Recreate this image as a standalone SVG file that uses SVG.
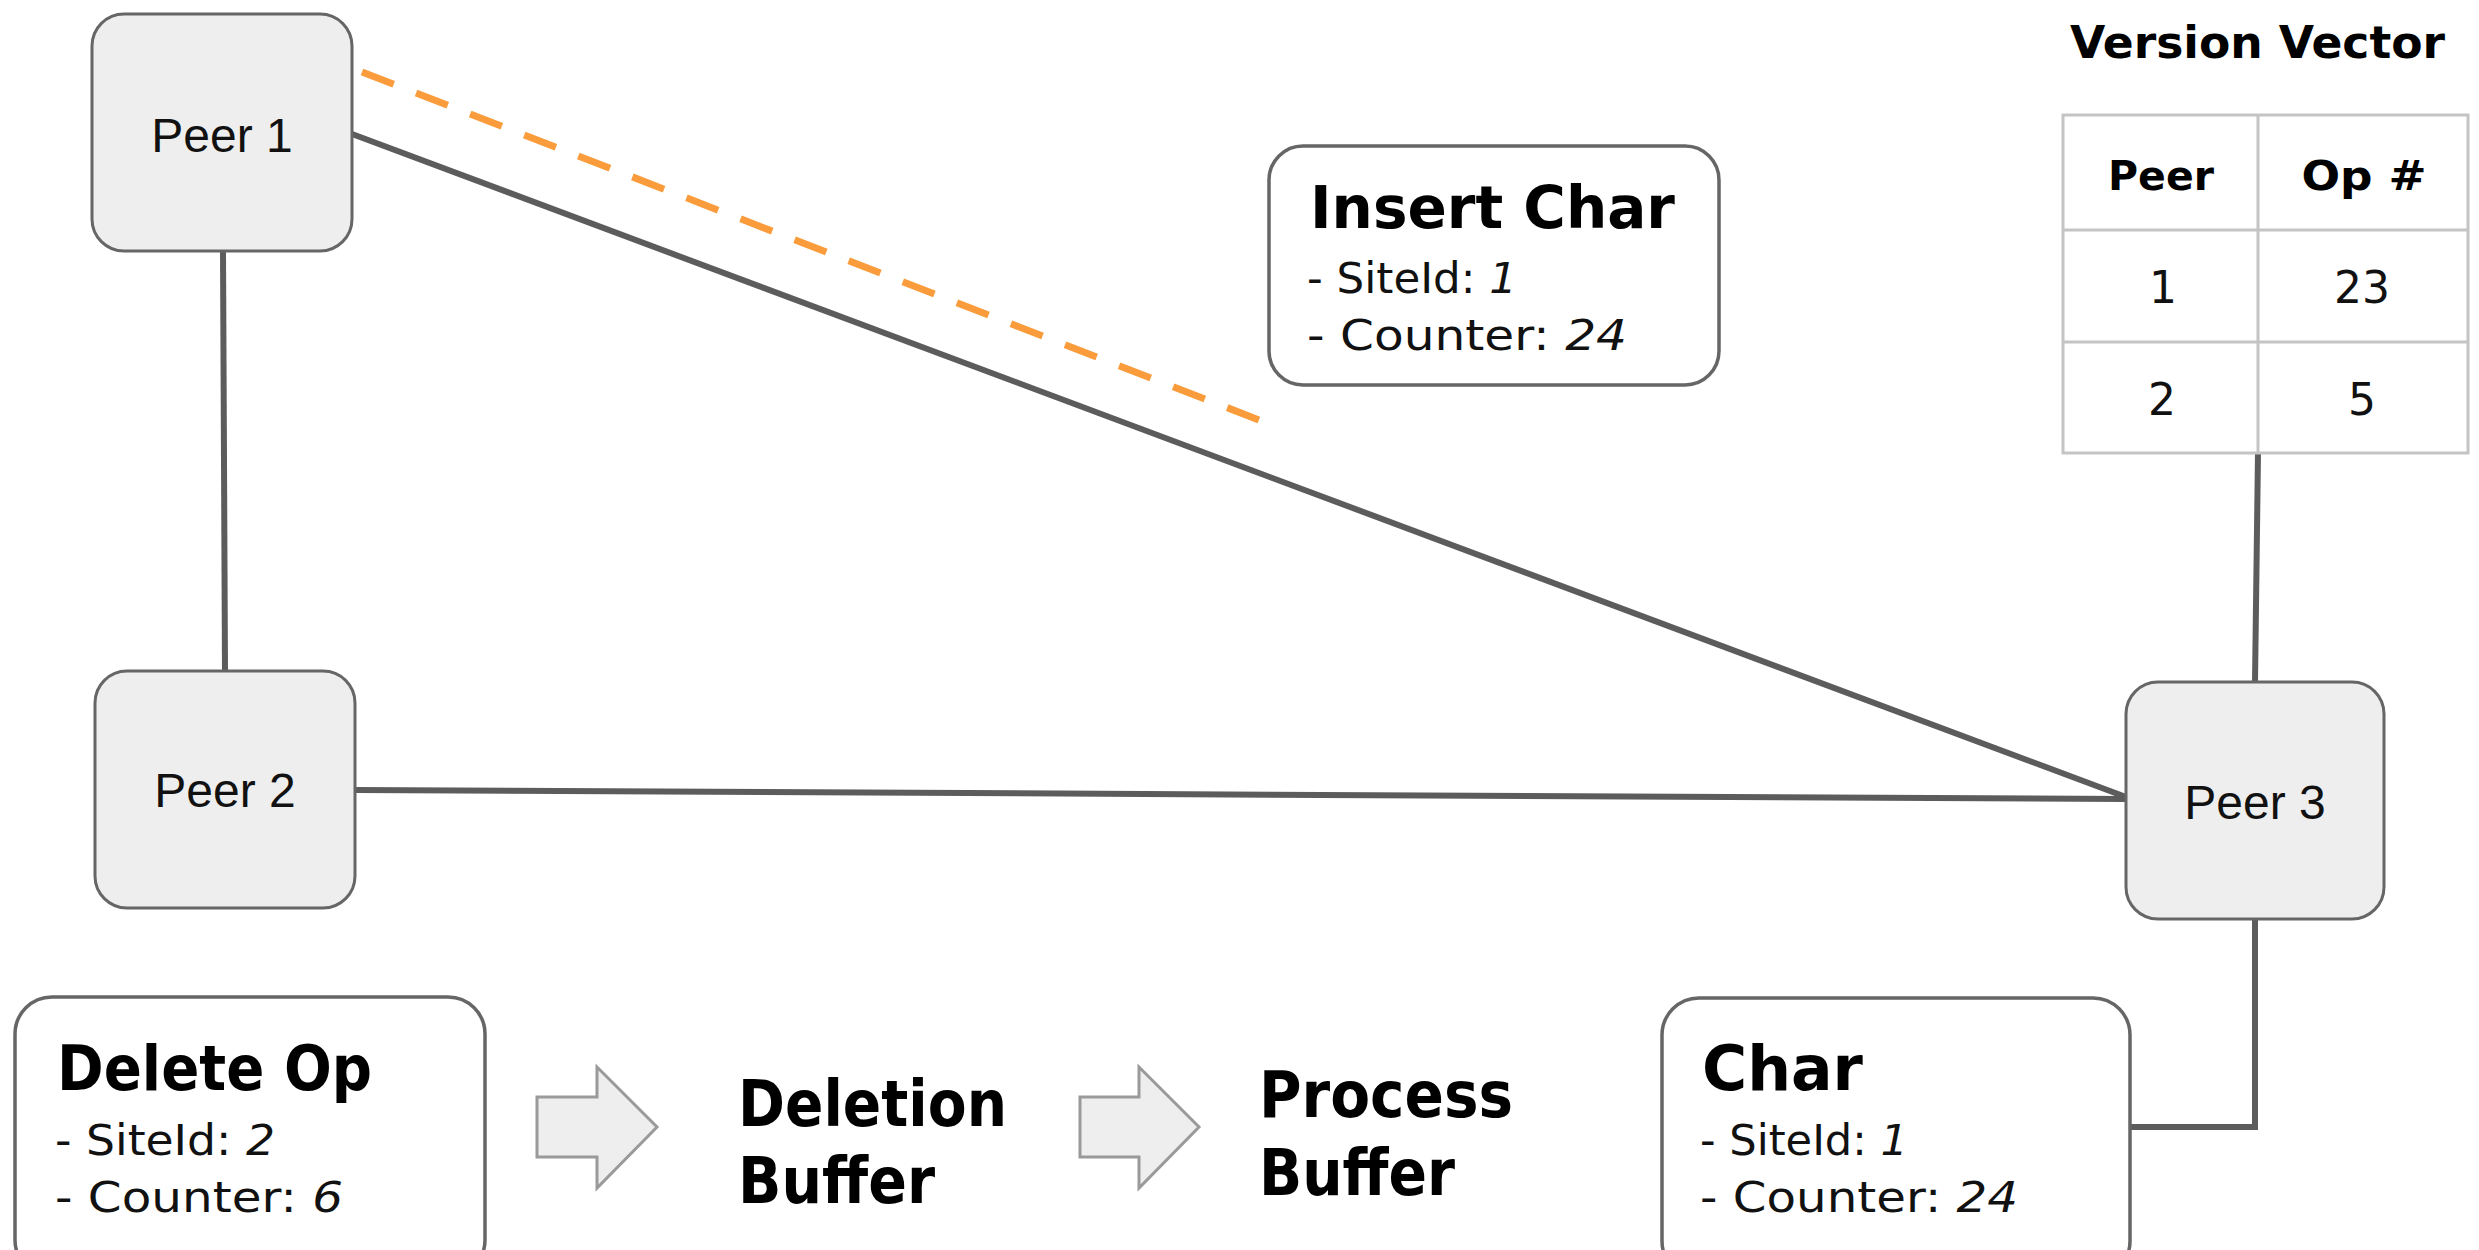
<svg xmlns="http://www.w3.org/2000/svg" width="2479" height="1250" viewBox="0 0 2479 1250">
  <style>
    .peer { fill: #eeeeee; stroke: #666666; stroke-width: 3; }
    .card { fill: #ffffff; stroke: #666666; stroke-width: 3.5; }
    .plabel { font-family: "Liberation Sans", Arial, sans-serif; font-size: 48px; fill: #111111; text-anchor: middle; }
    .title { font-family: "DejaVu Sans", sans-serif; font-weight: bold; fill: #000000; }
    .line { font-family: "DejaVu Sans", sans-serif; font-size: 42px; fill: #111111; }
    .it { font-style: italic; }
    .conn { stroke: #5c5c5c; stroke-width: 6; fill: none; }
    .dash { stroke: #fa9c3c; stroke-width: 7; fill: none; stroke-dasharray: 34 24; }
    .tbl { stroke: #c4c4c4; stroke-width: 3; fill: none; }
    .cell { font-family: "DejaVu Sans", sans-serif; font-size: 44px; fill: #111111; text-anchor: middle; }
    .hcell { font-family: "DejaVu Sans", sans-serif; font-weight: bold; font-size: 41px; fill: #000000; text-anchor: middle; }
    .blk { fill: #eeeeee; stroke: #9a9a9a; stroke-width: 3; }
  </style>

  <g id="connectors">
    <line class="conn" x1="223" y1="251" x2="225" y2="671"/>
    <line class="conn" x1="352" y1="134" x2="2126" y2="797"/>
    <line class="conn" x1="355" y1="790" x2="2126" y2="799"/>
    <line class="conn" x1="2258" y1="453" x2="2255" y2="682"/>
    <polyline class="conn" points="2255,919 2255,1127 2130,1127"/>
    <line class="dash" x1="362" y1="72" x2="1272" y2="425"/>
  </g>

  <g id="peer1">
    <rect class="peer" x="92" y="14" width="260" height="237" rx="32"/>
    <text class="plabel" x="222" y="152">Peer 1</text>
  </g>

  <g id="peer2">
    <rect class="peer" x="95" y="671" width="260" height="237" rx="32"/>
    <text class="plabel" x="225" y="807">Peer 2</text>
  </g>

  <g id="peer3">
    <rect class="peer" x="2126" y="682" width="258" height="237" rx="32"/>
    <text class="plabel" x="2255" y="819">Peer 3</text>
  </g>

  <g id="insert-char">
    <rect class="card" x="1269" y="146" width="450" height="239" rx="34"/>
    <text class="title" x="1310" y="228" font-size="59" textLength="365" lengthAdjust="spacingAndGlyphs">Insert Char</text>
    <text class="line" x="1307" y="293" textLength="210" lengthAdjust="spacingAndGlyphs">- SiteId: <tspan class="it">1</tspan></text>
    <text class="line" x="1307" y="350" textLength="320" lengthAdjust="spacingAndGlyphs">- Counter: <tspan class="it">24</tspan></text>
  </g>

  <g id="version-vector">
    <text class="title" x="2070" y="58" font-size="45" textLength="375" lengthAdjust="spacingAndGlyphs">Version Vector</text>
    <rect x="2063" y="115" width="405" height="338" fill="#ffffff"/>
    <rect class="tbl" x="2063" y="115" width="405" height="338"/>
    <line class="tbl" x1="2063" y1="230" x2="2468" y2="230"/>
    <line class="tbl" x1="2063" y1="342" x2="2468" y2="342"/>
    <line class="tbl" x1="2258" y1="115" x2="2258" y2="453"/>
    <text class="hcell" x="2161" y="190">Peer</text>
    <text class="hcell" x="2364" y="190" textLength="125" lengthAdjust="spacingAndGlyphs">Op #</text>
    <text class="cell" x="2163" y="303">1</text>
    <text class="cell" x="2362" y="303">23</text>
    <text class="cell" x="2162" y="415">2</text>
    <text class="cell" x="2362" y="415">5</text>
  </g>

  <g id="delete-op">
    <rect class="card" x="15" y="997" width="470" height="280" rx="37"/>
    <text class="title" x="57" y="1090" font-size="62" textLength="315" lengthAdjust="spacingAndGlyphs">Delete Op</text>
    <text class="line" x="55" y="1155" textLength="220" lengthAdjust="spacingAndGlyphs">- SiteId: <tspan class="it">2</tspan></text>
    <text class="line" x="55" y="1212" textLength="288" lengthAdjust="spacingAndGlyphs">- Counter: <tspan class="it">6</tspan></text>
  </g>

  <g id="arrow1">
    <polygon class="blk" points="537,1097 597,1097 597,1067 657,1127 597,1188 597,1157 537,1157"/>
  </g>

  <g id="deletion-buffer">
    <text class="title" x="738" y="1126" font-size="64" textLength="269" lengthAdjust="spacingAndGlyphs">Deletion</text>
    <text class="title" x="738" y="1203" font-size="64" textLength="197" lengthAdjust="spacingAndGlyphs">Buffer</text>
  </g>

  <g id="arrow2">
    <polygon class="blk" points="1080,1097 1139,1097 1139,1067 1199,1127 1139,1188 1139,1157 1080,1157"/>
  </g>

  <g id="process-buffer">
    <text class="title" x="1259" y="1117" font-size="64" textLength="254" lengthAdjust="spacingAndGlyphs">Process</text>
    <text class="title" x="1259" y="1195" font-size="64" textLength="196" lengthAdjust="spacingAndGlyphs">Buffer</text>
  </g>

  <g id="char">
    <rect class="card" x="1662" y="998" width="468" height="280" rx="37"/>
    <text class="title" x="1702" y="1090" font-size="62" textLength="161" lengthAdjust="spacingAndGlyphs">Char</text>
    <text class="line" x="1700" y="1155" textLength="208" lengthAdjust="spacingAndGlyphs">- SiteId: <tspan class="it">1</tspan></text>
    <text class="line" x="1700" y="1212" textLength="318" lengthAdjust="spacingAndGlyphs">- Counter: <tspan class="it">24</tspan></text>
  </g>
</svg>
